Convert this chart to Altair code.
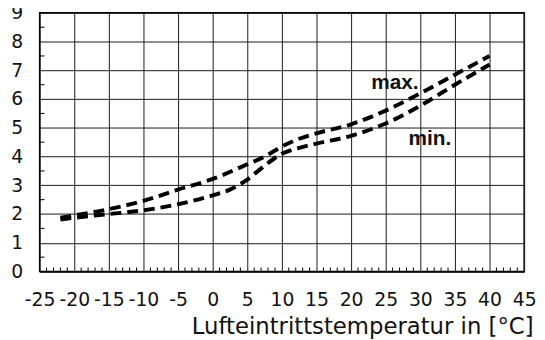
import altair as alt
import pandas as pd

# --- data ---
temps_max = [-22, -20, -15, -10, -5, 0, 5, 7.5, 10, 12.5, 15, 20, 25, 30, 35, 40]
cop_max = [1.87, 1.95, 2.17, 2.46, 2.85, 3.22, 3.73, 4.0, 4.35, 4.62, 4.81, 5.12, 5.6, 6.2, 6.85, 7.5]

temps_min = [-22, -20, -15, -10, -5, 0, 2.5, 5, 7.5, 10, 12.5, 15, 20, 25, 30, 35, 40]
cop_min = [1.81, 1.87, 2.0, 2.13, 2.34, 2.65, 2.85, 3.2, 3.68, 4.1, 4.3, 4.45, 4.72, 5.15, 5.77, 6.5, 7.2]

x_ticks = list(range(-25, 50, 5))
y_ticks = list(range(0, 10, 1))
x_minor = [t for t in range(-24, 45) if t % 5 != 0]
y_minor = [v + 0.5 for v in range(0, 9)]

labels = ["max.", "min."]
label_t = [22.9, 28.3]
label_v = [6.36, 4.41]

x_title = "Lufteintrittstemperatur in [°C]"

# --- tables ---
df = pd.concat([
    pd.DataFrame({"t": temps_max, "v": cop_max, "s": "max"}),
    pd.DataFrame({"t": temps_min, "v": cop_min, "s": "min"}),
])
df_xm = pd.DataFrame({"t": x_minor, "ya": 0.0, "yb": 0.14})
df_ym = pd.DataFrame({"v": y_minor, "xa": -25.0, "xb": -24.3})
df_lab = pd.DataFrame({"label": labels, "t": label_t, "v": label_v})

FONT = "DejaVu Sans"
xs = alt.Scale(domain=[-25, 45], nice=False, zero=False)
ys = alt.Scale(domain=[0, 9], nice=False, zero=False)

x_axis = alt.Axis(values=x_ticks, grid=True, ticks=False, domain=False,
                  labelExpr="datum.value + ''",
                  labelFont=FONT, labelFontSize=19, labelColor="#111",
                  labelPadding=19, labelOverlap=False, labelFlush=False,
                  title=x_title, titleFont=FONT, titleFontSize=23,
                  titleFontWeight="normal", titleColor="#111",
                  titleAnchor="end", titleAlign="right", titleBaseline="alphabetic",
                  titleX=499, titleY=63)
y_axis = alt.Axis(values=y_ticks, grid=True, ticks=False, domain=False,
                  labelFont=FONT, labelFontSize=19, labelColor="#111",
                  labelPadding=17, labelOverlap=False, labelFlush=False, title=None)

lines = alt.Chart(df).mark_line(
    color="black", strokeWidth=4, strokeDash=[11, 6], interpolate="monotone"
).encode(
    x=alt.X("t:Q", scale=xs, axis=x_axis),
    y=alt.Y("v:Q", scale=ys, axis=y_axis),
    detail="s:N",
)

xminor = alt.Chart(df_xm).mark_rule(color="black", strokeWidth=1).encode(
    x=alt.X("t:Q", scale=xs, axis=x_axis),
    y=alt.Y("ya:Q", scale=ys, axis=y_axis),
    y2="yb:Q",
)
yminor = alt.Chart(df_ym).mark_rule(color="black", strokeWidth=1).encode(
    y=alt.Y("v:Q", scale=ys, axis=y_axis),
    x=alt.X("xa:Q", scale=xs, axis=x_axis),
    x2="xb:Q",
)

text = alt.Chart(df_lab).mark_text(
    font="Liberation Sans", fontSize=21, fontWeight="bold", align="left",
    baseline="alphabetic", color="#111"
).encode(
    x=alt.X("t:Q", scale=xs, axis=x_axis),
    y=alt.Y("v:Q", scale=ys, axis=y_axis),
    text="label:N",
)

chart = alt.layer(lines, xminor, yminor, text).properties(
    width=490, height=261.6,
    autosize=alt.AutoSizeParams(type="none"),
    padding={"left": 32, "top": 3, "right": 13, "bottom": 72},
).configure_view(
    stroke="black", strokeWidth=1.5
).configure_axis(
    gridColor="#1a1a1a", gridWidth=1, gridOpacity=1
)

chart.save("out.html", embed_options={"renderer": "svg", "actions": False})
